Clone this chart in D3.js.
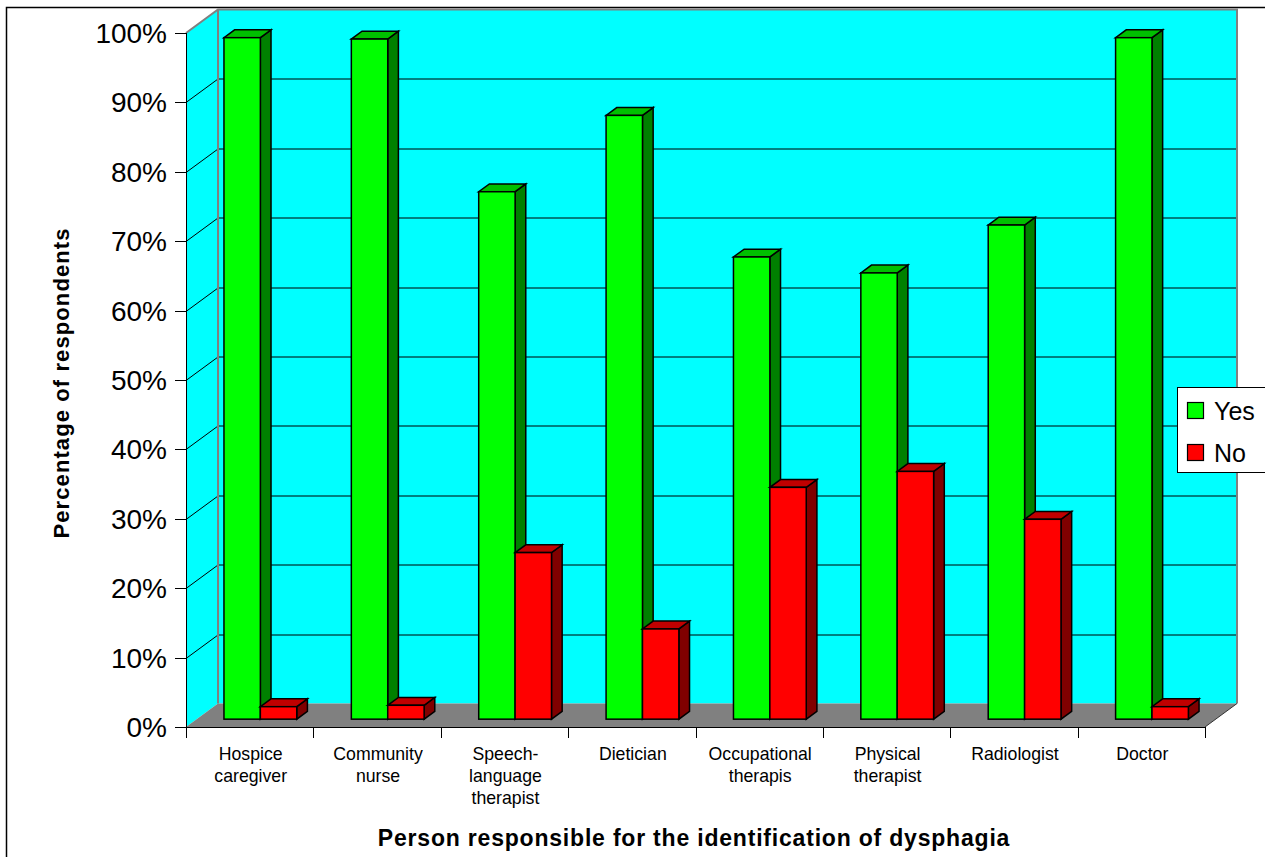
<!DOCTYPE html>
<html>
<head>
<meta charset="utf-8">
<script src="https://cdn.jsdelivr.net/npm/d3@7/dist/d3.min.js"></script>
<style>
  html, body { margin: 0; padding: 0; background: #fff; }
  svg { display: block; }
  text { font-family: Arial, "Liberation Sans", sans-serif; fill: #000; }
</style>
</head>
<body>
<svg id="chart" width="1265" height="857"></svg>
<script>
// Who should identify dysphagia — share of respondents answering Yes / No
const categories = [
  "Hospice caregiver", "Community nurse", "Speech-language therapist", "Dietician",
  "Occupational therapis", "Physical therapist", "Radiologist", "Doctor"
];
const categoryLines = [
  ["Hospice", "caregiver"], ["Community", "nurse"], ["Speech-", "language", "therapist"],
  ["Dietician"], ["Occupational", "therapis"], ["Physical", "therapist"], ["Radiologist"], ["Doctor"]
];
const seriesNames = ["Yes", "No"];
const yesValues = [98.2, 98.0, 76.0, 87.0, 66.6, 64.3, 71.2, 98.2];
const noValues  = [1.8, 2.0, 24.0, 13.0, 33.4, 35.7, 28.8, 1.8];
const yTicks = [0, 10, 20, 30, 40, 50, 60, 70, 80, 90, 100];
const xTitle = "Person responsible for the identification of dysphagia";
const yTitle = "Percentage of respondents";

const colors = {
  Yes: { front: "#00ff00", top: "#00c000", side: "#008000" },
  No:  { front: "#ff0000", top: "#c00000", side: "#800000" }
};

const svg = d3.select("#chart");

// outer frame
svg.append("rect")
  .attr("x", 6.5).attr("y", 7.5).attr("width", 1300).attr("height", 900)
  .attr("fill", "#fff").attr("stroke", "#000").attr("stroke-width", 1.5);

// front plane of the 3-D plot box and its depth offset
const plotLeft = 186, plotRight = 1205, plotTop = 33, plotBottom = 727;
const depthX = 32, depthY = 23.5;

const y = d3.scaleLinear().domain([0, 100]).range([plotBottom, plotTop]);
const x = d3.scaleBand().domain(categories).range([plotLeft, plotRight]);
const xs = d3.scaleBand().domain(seriesNames).range([0, x.bandwidth()])
  .paddingInner(0).paddingOuter(0.75);

const line = d3.line();

// back wall
svg.append("rect")
  .attr("x", plotLeft + depthX).attr("y", plotTop - depthY)
  .attr("width", plotRight - plotLeft).attr("height", plotBottom - plotTop)
  .attr("fill", "#00ffff");

// left side wall
svg.append("path")
  .attr("d", line([[plotLeft, plotTop], [plotLeft + depthX, plotTop - depthY],
                   [plotLeft + depthX, plotBottom - depthY], [plotLeft, plotBottom]]) + "Z")
  .attr("fill", "#00ffff");

// floor
svg.append("path")
  .attr("d", line([[plotLeft, plotBottom], [plotRight, plotBottom],
                   [plotRight + depthX, plotBottom - depthY], [plotLeft + depthX, plotBottom - depthY]]) + "Z")
  .attr("fill", "#808080");

// gridlines on the back and side walls
const grid = svg.append("g").attr("stroke", "#000").attr("stroke-width", 1).attr("fill", "none");
yTicks.filter(v => v > 0 && v < 100).forEach(v => {
  const yy = Math.round(y(v)) + 0.5;
  grid.append("path").attr("d", line([[plotLeft, yy], [plotLeft + depthX, yy - depthY]]));
  grid.append("path").attr("d", line([[plotLeft + depthX, yy - depthY], [plotRight + depthX, yy - depthY]]));
});

// wall edges
const edges = svg.append("g").attr("stroke", "#808080").attr("stroke-width", 2).attr("fill", "none");
edges.append("path").attr("d", line([[plotLeft, plotTop], [plotLeft + depthX, plotTop - depthY],
  [plotRight + depthX, plotTop - depthY], [plotRight + depthX, plotBottom - depthY]]));
edges.append("path").attr("d", line([[plotLeft + depthX, plotTop - depthY], [plotLeft + depthX, plotBottom - depthY]]));
svg.append("path")
  .attr("d", line([[plotRight, plotBottom], [plotRight + depthX, plotBottom - depthY]]))
  .attr("stroke", "#333").attr("stroke-width", 1).attr("fill", "none");

// bars, each occupying the middle third of the depth
const z1x = depthX / 3, z1y = depthY / 3, z2x = depthX * 2 / 3, z2y = depthY * 2 / 3;
const bars = svg.append("g").attr("stroke", "#000").attr("stroke-width", 1.5).attr("stroke-linejoin", "miter");
categories.forEach((cat, i) => {
  [["Yes", yesValues[i]], ["No", noValues[i]]].forEach(([s, v]) => {
    const x0 = x(cat) + xs(s), w = xs.bandwidth();
    const yv = y(v), y0 = y(0);
    const c = colors[s];
    const g = bars.append("g");
    g.append("path").attr("fill", c.side)
      .attr("d", line([[x0 + w + z1x, yv - z1y], [x0 + w + z2x, yv - z2y],
                       [x0 + w + z2x, y0 - z2y], [x0 + w + z1x, y0 - z1y]]) + "Z");
    g.append("path").attr("fill", c.top)
      .attr("d", line([[x0 + z1x, yv - z1y], [x0 + w + z1x, yv - z1y],
                       [x0 + w + z2x, yv - z2y], [x0 + z2x, yv - z2y]]) + "Z");
    g.append("rect").attr("fill", c.front)
      .attr("x", x0 + z1x).attr("y", yv - z1y).attr("width", w).attr("height", y0 - yv);
  });
});

// axes
const axes = svg.append("g").attr("stroke", "#000").attr("stroke-width", 1).attr("fill", "none");
axes.append("path").attr("d", line([[plotLeft + 0.5, plotTop], [plotLeft + 0.5, plotBottom + 11]]));
axes.append("path").attr("d", line([[plotLeft - 11, plotBottom + 0.5], [plotRight, plotBottom + 0.5]]));
yTicks.forEach(v => {
  const yy = Math.round(y(v)) + 0.5;
  axes.append("path").attr("d", line([[plotLeft - 11, yy], [plotLeft, yy]]));
});
const boundaries = categories.map(c => x(c)).concat([plotRight]);
boundaries.forEach(bx => {
  const xx = Math.round(bx) + 0.5;
  axes.append("path").attr("d", line([[xx, plotBottom], [xx, plotBottom + 11]]));
});

// y tick labels
svg.append("g").selectAll("text").data(yTicks).join("text")
  .attr("x", plotLeft - 19).attr("y", d => y(d)).attr("dy", "0.36em")
  .attr("text-anchor", "end").attr("font-size", 28)
  .text(d => d + "%");

// category labels
const catLabels = svg.append("g").attr("font-size", 17.7).attr("text-anchor", "middle");
categories.forEach((cat, i) => {
  const t = catLabels.append("text").attr("x", x(cat) + x.bandwidth() / 2 + 1).attr("y", 760);
  categoryLines[i].forEach((ln, j) => {
    t.append("tspan").attr("x", x(cat) + x.bandwidth() / 2 + 1).attr("dy", j === 0 ? 0 : 21.8).text(ln);
  });
});

// axis titles
svg.append("text")
  .attr("x", 694).attr("y", 846).attr("text-anchor", "middle")
  .attr("font-size", 23).attr("font-weight", "bold").attr("letter-spacing", 0.8)
  .text(xTitle);
svg.append("text")
  .attr("transform", "translate(69,383) rotate(-90)")
  .attr("text-anchor", "middle").attr("font-size", 22).attr("font-weight", "bold")
  .attr("letter-spacing", 1.1)
  .text(yTitle);

// legend
const legend = svg.append("g");
legend.append("rect").attr("x", 1177.5).attr("y", 387.5).attr("width", 120).attr("height", 85)
  .attr("fill", "#fff").attr("stroke", "#000").attr("stroke-width", 1);
seriesNames.forEach((s, i) => {
  const ly = 402 + i * 42;
  legend.append("rect").attr("x", 1187.5).attr("y", ly + 0.5).attr("width", 16).attr("height", 16)
    .attr("fill", colors[s].front).attr("stroke", "#000").attr("stroke-width", 1.2);
  legend.append("text").attr("x", 1214).attr("y", ly + 8.5).attr("dy", "0.36em")
    .attr("font-size", 25).text(s);
});
</script>
</body>
</html>
